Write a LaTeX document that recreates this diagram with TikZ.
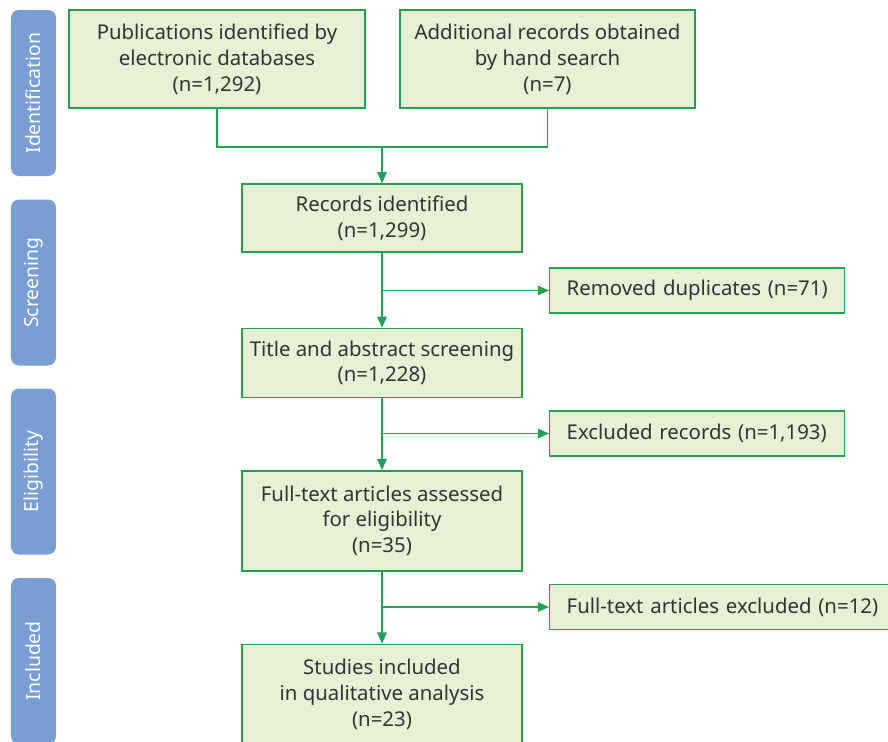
\documentclass[tikz,border=0pt]{standalone}
\usepackage{fontspec}
\setmainfont{Noto Sans}
\usetikzlibrary{arrows.meta,positioning,calc}

\definecolor{boxfill}{HTML}{E6F0D5}
\definecolor{boxline}{HTML}{23A050}
\definecolor{stagefill}{HTML}{789ED3}
\definecolor{textgray}{HTML}{333333}

\begin{document}
\begin{tikzpicture}[
    box/.style={draw=boxline, fill=boxfill, line width=1pt, minimum width=7cm, align=center, text=textgray, font=\fontsize{14.5}{18.4}\selectfont},
    sidebox/.style={box, minimum height=1.125cm, inner xsep=0.425cm, align=left, text width=6.525cm, anchor=west},
    stage/.style={fill=stagefill, rounded corners=0.2cm, minimum width=4.15cm, minimum height=1.125cm, text=white, rotate=90, font=\fontsize{13.8}{14}\selectfont},
    arrow/.style={-{Triangle[length=2.8mm, width=2.4mm]}, line width=1pt, boxline},
    link/.style={line width=1pt, boxline}
]
    \useasboundingbox (0,0) rectangle (22.2,-18.525);
    \clip (0,0) rectangle (22.2,-18.525);

    % Stages
    \node[stage] (ident) at (0.8375,-2.325) {Identification};
    \node[stage] (screen) at (0.8375,-7.0625) {Screening};
    \node[stage] (elig) at (0.8375,-11.7875) {Eligibility};
    \node[stage] (incl) at (0.8375,-16.525) {Included};

    % Main column
    \node[box, minimum width=7.4cm, minimum height=2.45cm] (pubs) at (5.425,-1.475) {Publications identified by\\electronic databases\\(n=1,292)};
    \node[box, minimum width=7.375cm, minimum height=2.45cm] (hand) at (13.6875,-1.475) {Additional records obtained\\by hand search\\(n=7)};
    \node[box, minimum height=1.7cm] (records) at (9.55,-5.45) {Records identified\\(n=1,299)};
    \node[box, minimum height=1.725cm, below=1.875cm of records] (title) {Title and abstract screening\\(n=1,228)};
    \node[box, minimum height=2.5cm, below=1.8cm of title] (fulltext) {Full-text articles assessed\\for eligibility\\(n=35)};
    \node[box, minimum height=2.5cm, below=1.8cm of fulltext] (studies) {Studies included\\in qualitative analysis\\(n=23)};

    % Exclusions
    \node[sidebox] (dupes) at (13.725,-7.2625) {Removed duplicates (n=71)};
    \node[sidebox] (excl) at (13.725,-10.8375) {Excluded records (n=1,193)};
    \node[sidebox, text width=8.2cm] (ftexcl) at (13.725,-15.175) {Full-text articles excluded (n=12)};

    % Flow
    \coordinate (merge) at (9.55,-3.675);
    \draw[link] (pubs.south) |- (merge) -| (hand.south);
    \draw[arrow] (merge) -- (records);
    \draw[arrow] (records) -- (title);
    \draw[arrow] (title) -- (fulltext);
    \draw[arrow] (fulltext) -- (studies);
    \draw[arrow] (records.south |- dupes) -- (dupes);
    \draw[arrow] (title.south |- excl) -- (excl);
    \draw[arrow] (fulltext.south |- ftexcl) -- (ftexcl);
\end{tikzpicture}
\end{document}
